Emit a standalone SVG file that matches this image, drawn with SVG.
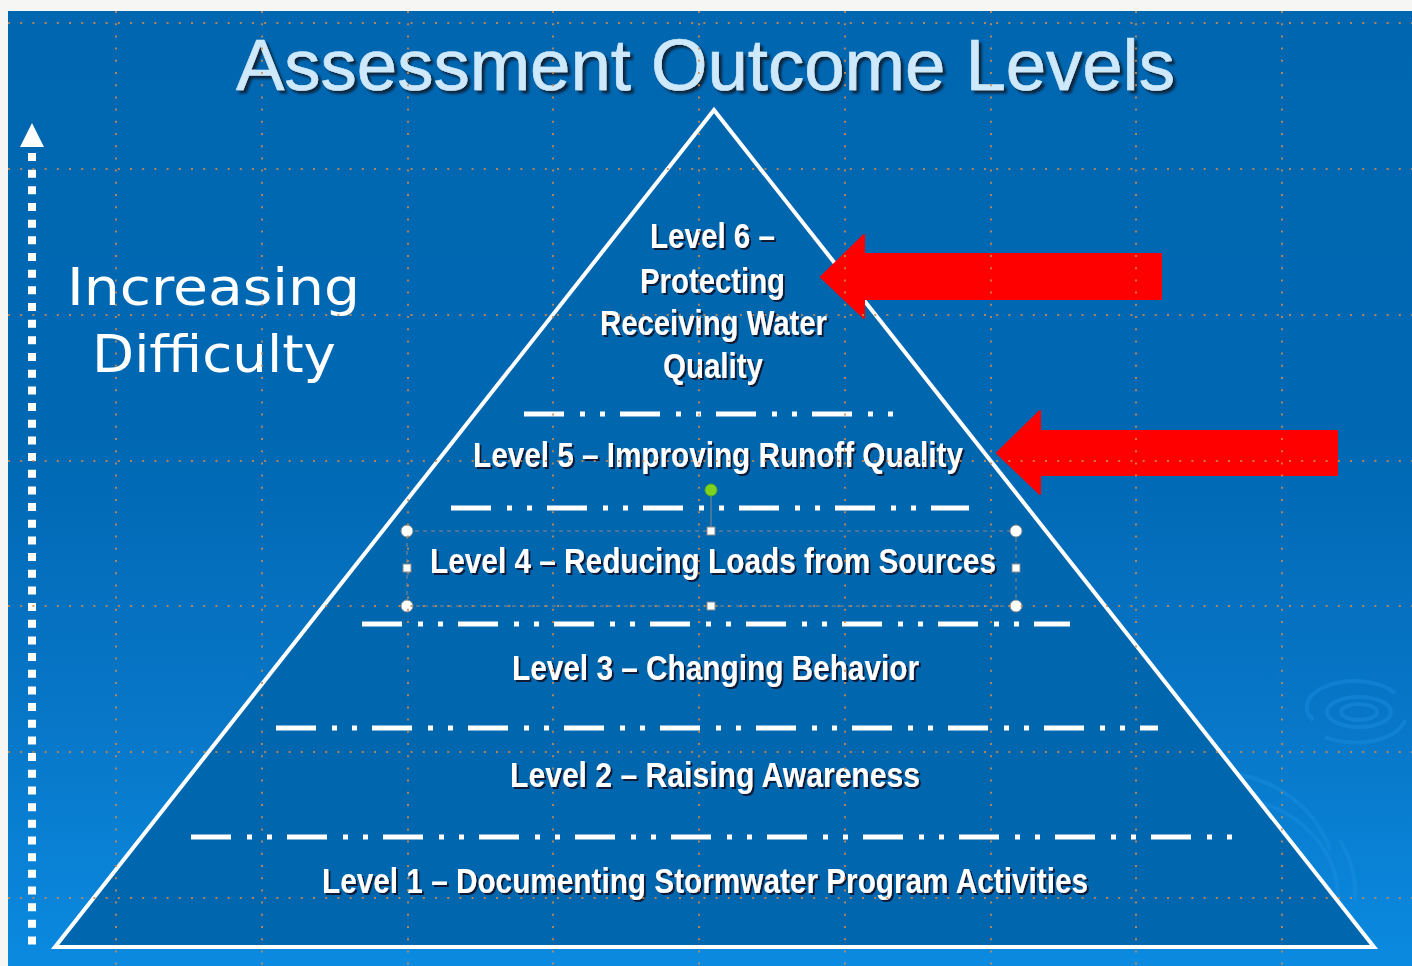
<svg xmlns="http://www.w3.org/2000/svg" width="1412" height="966" viewBox="0 0 1412 966">
<defs>
<linearGradient id="bg" x1="0" y1="0" x2="0" y2="1">
<stop offset="0" stop-color="#0066b0"/>
<stop offset="0.45" stop-color="#0068b3"/>
<stop offset="0.75" stop-color="#0877c8"/>
<stop offset="1" stop-color="#0a8ae0"/>
</linearGradient>
<filter id="shadow" x="-5%" y="-20%" width="110%" height="140%">
<feDropShadow dx="2" dy="2" stdDeviation="0.7" flood-color="#0a1830" flood-opacity="0.95"/>
</filter>
<filter id="tshadow" x="-5%" y="-20%" width="110%" height="140%">
<feDropShadow dx="3" dy="3" stdDeviation="1" flood-color="#0a1a33" flood-opacity="0.9"/>
</filter>
<style>
.lvl { font-family: "Liberation Sans Narrow", "Liberation Sans", Arial, sans-serif; font-weight: bold; font-size: 35px; fill: #ffffff; }
.dd { stroke: #ffffff; stroke-width: 5; fill: none; stroke-dasharray: 40 16 5 15 5 15; }
.grid { stroke: #d08a4a; stroke-width: 2; stroke-dasharray: 2 10.2; fill: none; opacity: 0.85; }
.rip { fill: none; stroke: #1a8ee0; stroke-width: 4; opacity: 0.45; }
.handle { fill: #ffffff; stroke: #8a8a8a; stroke-width: 1; }
</style>
</defs>

<!-- page margin and background -->
<rect x="0" y="0" width="1412" height="966" fill="#f6f6f4"/>
<rect x="8" y="11" width="1404" height="955" fill="url(#bg)"/>

<!-- ripples -->
<g id="ripples">
<ellipse class="rip" cx="1359" cy="712" rx="18" ry="8"/>
<ellipse class="rip" cx="1359" cy="712" rx="32" ry="15"/>
<path class="rip" d="M1313,720 A48,26 0 0 1 1395,693"/>
<path class="rip" d="M1325,737 A50,27 0 0 0 1405,720"/>
<path class="rip" d="M1240,775 A120,110 0 0 1 1330,850"/>
<path class="rip" d="M1248,800 A110,100 0 0 1 1338,900"/>
<path class="rip" d="M1340,840 A120,110 0 0 1 1355,900"/>
</g>

<!-- pyramid -->
<g id="pyramid">
<polygon points="714,110 1374,947 55,947" fill="#0066ae" stroke="#ffffff" stroke-width="4" stroke-linejoin="miter"/>
</g>

<!-- level separators -->
<g id="connectors">
<line class="dd" x1="524" y1="414" x2="895" y2="414"/>
<line class="dd" x1="451" y1="508" x2="969" y2="508"/>
<line class="dd" x1="362" y1="624" x2="1070" y2="624"/>
<line class="dd" x1="276" y1="728" x2="1158" y2="728"/>
<line class="dd" x1="191" y1="837" x2="1246" y2="837"/>
</g>

<!-- selection box around level 4 -->
<g id="selection">
<rect x="407" y="531" width="609" height="75" fill="none" stroke="#8a8a8a" stroke-width="1" stroke-dasharray="4 4"/>
<line x1="711" y1="496" x2="711" y2="527" stroke="#8a8a8a" stroke-width="1"/>
<circle cx="711" cy="490" r="6" fill="#7ed321" stroke="#5aa81a" stroke-width="1"/>
<circle class="handle" cx="407" cy="531" r="6"/>
<circle class="handle" cx="1016" cy="531" r="6"/>
<circle class="handle" cx="407" cy="606" r="6"/>
<circle class="handle" cx="1016" cy="606" r="6"/>
<rect class="handle" x="707" y="527" width="8" height="8"/>
<rect class="handle" x="707" y="602" width="8" height="8"/>
<rect class="handle" x="403" y="564" width="8" height="8"/>
<rect class="handle" x="1012" y="564" width="8" height="8"/>
</g>

<!-- title -->
<g id="title" filter="url(#tshadow)">
<text x="236" y="90" textLength="939" lengthAdjust="spacingAndGlyphs" font-family="'Liberation Sans', Arial, sans-serif" font-size="73" fill="#cde9fb" stroke="#cde9fb" stroke-width="0.6">Assessment Outcome Levels</text>
</g>

<!-- increasing difficulty -->
<g id="difficulty">
<polygon points="32,123 20,147 44,147" fill="#ffffff"/>
<line x1="32" y1="153" x2="32" y2="949" stroke="#ffffff" stroke-width="8" stroke-dasharray="8 8.67"/>
<text x="67" y="305" textLength="293" lengthAdjust="spacingAndGlyphs" font-family="'DejaVu Sans', Verdana, sans-serif" font-size="52" fill="#ffffff">Increasing</text>
<text x="92" y="372" textLength="244" lengthAdjust="spacingAndGlyphs" font-family="'DejaVu Sans', Verdana, sans-serif" font-size="52" fill="#ffffff">Difficulty</text>
</g>

<!-- levels -->
<g id="level6" filter="url(#shadow)">
<text class="lvl" x="650" y="248" textLength="125" lengthAdjust="spacingAndGlyphs">Level 6 –</text>
<text class="lvl" x="640" y="293" textLength="145" lengthAdjust="spacingAndGlyphs">Protecting</text>
<text class="lvl" x="600" y="335" textLength="227" lengthAdjust="spacingAndGlyphs">Receiving Water</text>
<text class="lvl" x="663" y="378" textLength="100" lengthAdjust="spacingAndGlyphs">Quality</text>
</g>
<g id="level5" filter="url(#shadow)">
<text class="lvl" x="473" y="467" textLength="490" lengthAdjust="spacingAndGlyphs">Level 5 – Improving Runoff Quality</text>
</g>
<g id="level4" filter="url(#shadow)">
<text class="lvl" x="430" y="573" textLength="566" lengthAdjust="spacingAndGlyphs">Level 4 – Reducing Loads from Sources</text>
</g>
<g id="level3" filter="url(#shadow)">
<text class="lvl" x="512" y="680" textLength="407" lengthAdjust="spacingAndGlyphs">Level 3 – Changing Behavior</text>
</g>
<g id="level2" filter="url(#shadow)">
<text class="lvl" x="510" y="787" textLength="410" lengthAdjust="spacingAndGlyphs">Level 2 – Raising Awareness</text>
</g>
<g id="level1" filter="url(#shadow)">
<text class="lvl" x="322" y="893" textLength="766" lengthAdjust="spacingAndGlyphs">Level 1 – Documenting Stormwater Program Activities</text>
</g>

<!-- red arrows -->
<g id="arrow6">
<polygon points="821,277 864,235 864,254 1161,254 1161,299 864,299 864,318" fill="#ff0000" stroke="#ff0000" stroke-width="2" stroke-linejoin="round"/>
</g>
<g id="arrow5">
<polygon points="997,453 1040,411 1040,431 1337,431 1337,475 1040,475 1040,494" fill="#ff0000" stroke="#ff0000" stroke-width="2" stroke-linejoin="round"/>
</g>

<!-- grid guides -->
<g id="grid">
<line class="grid" x1="116" y1="11" x2="116" y2="966"/>
<line class="grid" x1="262" y1="11" x2="262" y2="966"/>
<line class="grid" x1="408" y1="11" x2="408" y2="966"/>
<line class="grid" x1="553" y1="11" x2="553" y2="966"/>
<line class="grid" x1="699" y1="11" x2="699" y2="966"/>
<line class="grid" x1="845" y1="11" x2="845" y2="966"/>
<line class="grid" x1="991" y1="11" x2="991" y2="966"/>
<line class="grid" x1="1136" y1="11" x2="1136" y2="966"/>
<line class="grid" x1="1282" y1="11" x2="1282" y2="966"/>
<line class="grid" x1="8" y1="23" x2="1412" y2="23"/>
<line class="grid" x1="8" y1="169" x2="1412" y2="169"/>
<line class="grid" x1="8" y1="315" x2="1412" y2="315"/>
<line class="grid" x1="8" y1="461" x2="1412" y2="461"/>
<line class="grid" x1="8" y1="606" x2="1412" y2="606"/>
<line class="grid" x1="8" y1="752" x2="1412" y2="752"/>
<line class="grid" x1="8" y1="898" x2="1412" y2="898"/>
</g>
</svg>
